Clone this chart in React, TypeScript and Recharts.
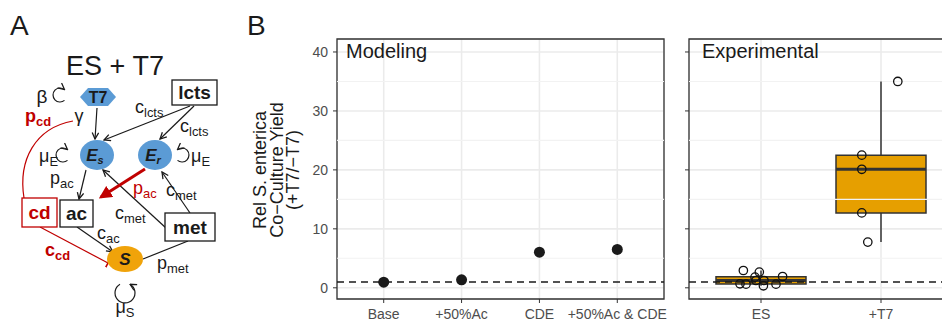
import { CartesianGrid, ComposedChart, ReferenceArea, ReferenceLine, Scatter, XAxis, YAxis } from 'recharts';

const FONT = '"Liberation Sans", Arial, sans-serif';

// panel B, left facet: model predictions
const MODEL_LABELS = ['Base', '+50%Ac', 'CDE', '+50%Ac & CDE'];
const MODEL_YIELD = [0.95, 1.35, 6.05, 6.5];

const EXP_LABELS = ['ES', '+T7'];
const ES_X = [0.853, 0.986, 0.95, 1.18, 0.825, 0.875, 0.958, 1.025, 1.02, 1.125];
const ES_Y = [2.93, 2.66, 1.81, 1.92, 0.68, 0.62, 1.24, 1.24, 0.34, 0.62];
const T7_X = [2.14, 1.84, 1.84, 1.84, 1.89];
const T7_Y = [35, 22.5, 20.1, 12.7, 7.75];

// box stats per experimental group
const BOX_LO = [0.34, 7.75];
const BOX_Q1 = [0.64, 12.7];
const BOX_MED = [1.24, 20.1];
const BOX_Q3 = [1.89, 22.5];
const BOX_HI = [2.93, 35];

const Y_TICKS = [0, 10, 20, 30, 40];
const Y_MINOR = [5, 15, 25, 35];
const Y_DOMAIN: [number, number] = [-1.9, 42.2];
const BASELINE = 1;

const BOX_HALF = 0.375;

const modelData = MODEL_YIELD.map((y, i) => ({ x: i + 1, y }));
const expData = [...ES_X.map((x, i) => ({ x, y: ES_Y[i] })), ...T7_X.map((x, i) => ({ x, y: T7_Y[i] }))];

const tickStyle = { fill: '#4d4d4d', fontSize: 14, fontFamily: FONT };

const RED = '#C00000';
const BLUE = '#5B9BD5';
const ORANGE = '#F0A30A';

function Sub({ x, y, base, sub, color = '#1a1a1a', bold = false, size = 18, anchor = 'start' as 'start' | 'middle' }) {
  return (
    <text x={x} y={y} fill={color} fontSize={size} fontWeight={bold ? 700 : 400} fontFamily={FONT} textAnchor={anchor}>
      {base}
      <tspan fontSize={size * 0.72} dy={4}>
        {sub}
      </tspan>
    </text>
  );
}

function Diagram() {
  return (
    <svg width={942} height={321} style={{ position: 'absolute', left: 0, top: 0 }}>
      <defs>
        <marker id="ah" viewBox="0 0 10 10" refX="9" refY="5" markerWidth="8" markerHeight="8" markerUnits="userSpaceOnUse" orient="auto">
          <path d="M1,1 L9,5 L1,9" fill="none" stroke="#1a1a1a" strokeWidth={1.6} />
        </marker>
        <marker id="ahr" viewBox="0 0 10 10" refX="8" refY="5" markerWidth="13" markerHeight="13" markerUnits="userSpaceOnUse" orient="auto">
          <path d="M0,0 L10,5 L0,10 z" fill={RED} />
        </marker>
        <marker id="bar" viewBox="0 0 10 10" refX="5" refY="5" markerWidth="10" markerHeight="10" markerUnits="userSpaceOnUse" orient="auto">
          <path d="M5,0 L5,10" stroke={RED} strokeWidth={1.6} />
        </marker>
      </defs>

      <text x={10} y={35} fontSize={28} fontFamily={FONT} fill="#1a1a1a">A</text>
      <text x={247} y={35} fontSize={28} fontFamily={FONT} fill="#1a1a1a">B</text>

      <text x={115} y={75} fontSize={27} fontFamily={FONT} textAnchor="middle" fill="#1a1a1a">ES + T7</text>

      {/* connections */}
      <g stroke="#1a1a1a" strokeWidth={1.2} fill="none">
        <line x1={97} y1={108} x2={95} y2={139} markerEnd="url(#ah)" />
        <line x1={190} y1={106} x2={104} y2={140} markerEnd="url(#ah)" />
        <line x1={194} y1={106} x2={160} y2={139} markerEnd="url(#ah)" />
        <line x1={86} y1={170} x2={79} y2={199} markerEnd="url(#ah)" />
        <line x1={166} y1={228} x2={103} y2={170} markerEnd="url(#ah)" />
        <line x1={190} y1={213} x2={162} y2={172} markerEnd="url(#ah)" />
        <line x1={77} y1={227} x2={113} y2={252} markerEnd="url(#ah)" />
        <line x1={143} y1={259} x2={188} y2={241} />
        <path d="M64.5,100.4 A7,7 0 1 1 64.5,89.6" markerEnd="url(#ah)" />
        <path d="M67.5,160.4 A7,7 0 1 1 67.5,149.6" markerEnd="url(#ah)" />
        <path d="M177.5,160.4 A7,7 0 1 0 177.5,149.6" markerEnd="url(#ah)" />
        <path d="M120,284.3 A10,10 0 1 0 130,284.3" markerEnd="url(#ah)" />
      </g>
      <path d="M73,121 C35,128 18,160 24,198" stroke={RED} strokeWidth={1.2} fill="none" />
      <line x1={40} y1={227} x2={108} y2={263} stroke={RED} strokeWidth={1.2} markerEnd="url(#bar)" />
      <line x1={145} y1={169} x2={101} y2={197} stroke={RED} strokeWidth={3} markerEnd="url(#ahr)" />

      {/* nodes */}
      <polygon points="80,97 88,88 108,88 116,97 108,106 88,106" fill={BLUE} />
      <text x={98} y={103} fontSize={16} fontWeight={700} fontFamily={FONT} textAnchor="middle" fill="#1a1a1a">T7</text>
      <ellipse cx={97} cy={155} rx={17} ry={15} fill={BLUE} />
      <ellipse cx={155} cy={155} rx={17} ry={15} fill={BLUE} />
      <text x={95} y={161} fontSize={17} fontWeight={700} fontStyle="italic" fontFamily={FONT} textAnchor="middle" fill="#1a1a1a">
        E<tspan fontSize={11} dy={3}>s</tspan>
      </text>
      <text x={153} y={161} fontSize={17} fontWeight={700} fontStyle="italic" fontFamily={FONT} textAnchor="middle" fill="#1a1a1a">
        E<tspan fontSize={11} dy={3}>r</tspan>
      </text>
      <ellipse cx={125} cy={259} rx={18} ry={13} fill={ORANGE} />
      <text x={125} y={265} fontSize={17} fontWeight={700} fontStyle="italic" fontFamily={FONT} textAnchor="middle" fill="#1a1a1a">S</text>

      <rect x={172} y={80} width={45} height={25} fill="#fff" stroke="#1a1a1a" strokeWidth={1.3} />
      <text x={194.5} y={99} fontSize={19} fontWeight={700} fontFamily={FONT} textAnchor="middle" fill="#1a1a1a">lcts</text>
      <rect x={22} y={198} width={35} height={29} fill="#fff" stroke={RED} strokeWidth={1.3} />
      <text x={39.5} y={219} fontSize={19} fontWeight={700} fontFamily={FONT} textAnchor="middle" fill={RED}>cd</text>
      <rect x={60} y={200} width={33} height={27} fill="#fff" stroke="#1a1a1a" strokeWidth={1.3} />
      <text x={76.5} y={220} fontSize={19} fontWeight={700} fontFamily={FONT} textAnchor="middle" fill="#1a1a1a">ac</text>
      <rect x={165} y={213} width={50} height={28} fill="#fff" stroke="#1a1a1a" strokeWidth={1.3} />
      <text x={190} y={234} fontSize={19} fontWeight={700} fontFamily={FONT} textAnchor="middle" fill="#1a1a1a">met</text>

      {/* rate labels */}
      <text x={42} y={103} fontSize={19} fontFamily={FONT} textAnchor="middle" fill="#1a1a1a">β</text>
      <text x={79} y={122} fontSize={18} fontFamily={FONT} textAnchor="middle" fill="#1a1a1a">γ</text>
      <Sub x={135} y={113} base="c" sub="lcts" />
      <Sub x={180} y={132} base="c" sub="lcts" />
      <Sub x={25} y={122} base="p" sub="cd" color={RED} bold />
      <Sub x={39} y={162} base="μ" sub="E" />
      <Sub x={191} y={162} base="μ" sub="E" />
      <Sub x={50} y={184} base="p" sub="ac" />
      <Sub x={133} y={194} base="p" sub="ac" color={RED} />
      <Sub x={166} y={196} base="c" sub="met" />
      <Sub x={115} y={219} base="c" sub="met" />
      <Sub x={97} y={239} base="c" sub="ac" />
      <Sub x={45} y={256} base="c" sub="cd" color={RED} bold />
      <Sub x={157} y={269} base="p" sub="met" />
      <Sub x={125} y={313} base="μ" sub="S" anchor="middle" />

      {/* y-axis title of panel B */}
      {['Rel S. enterica', 'Co\u2212Culture Yield', '(+T7/\u2212T7)'].map((t, i) => (
        <text
          key={t}
          x={260 + i * 16.5}
          y={170}
          transform={`rotate(-90 ${260 + i * 16.5} 170)`}
          fontSize={18}
          fontFamily={FONT}
          textAnchor="middle"
          dominantBaseline="central"
          fill="#1a1a1a"
        >
          {t}
        </text>
      ))}
    </svg>
  );
}

function Dot(props: any) {
  return <circle cx={props.cx} cy={props.cy} r={5.5} fill="#1a1a1a" />;
}

function OpenDot(props: any) {
  return <circle cx={props.cx} cy={props.cy} r={4.2} fill="none" stroke="#111" strokeWidth={1.3} />;
}

function grid(xMax: number) {
  return [
    <CartesianGrid key="g" stroke="#EBEBEB" strokeWidth={1.6} />,
    ...Y_MINOR.map((y) => <ReferenceLine key={`m${y}`} y={y} stroke="#F2F2F2" strokeWidth={1.1} />),
    <ReferenceArea key="frame" x1={0.4} x2={xMax} y1={Y_DOMAIN[0]} y2={Y_DOMAIN[1]} fill="none" stroke="#333" strokeWidth={1.3} />,
  ];
}

export default function App() {
  return (
    <div style={{ position: 'relative', width: 942, height: 321, overflow: 'hidden', background: '#fff', fontFamily: FONT }}>
      <style>{'body{margin:0}'}</style>
      <Diagram />

      <div style={{ position: 'absolute', left: 240, top: 0 }}>
        <ComposedChart width={430} height={321} data={modelData} margin={{ top: 39, right: 6, bottom: 2, left: 0 }}>
          {grid(4.6)}
          <XAxis
            type="number"
            dataKey="x"
            domain={[0.4, 4.6]}
            ticks={[1, 2, 3, 4]}
            interval={0}
            tickFormatter={(v) => MODEL_LABELS[v - 1]}
            tick={tickStyle}
            tickSize={4}
            tickMargin={6}
            axisLine={false}
            tickLine={{ stroke: '#333' }}
            height={20}
            allowDataOverflow
          />
          <YAxis
            type="number"
            domain={Y_DOMAIN}
            ticks={Y_TICKS}
            interval={0}
            tick={tickStyle}
            tickSize={4}
            tickMargin={5}
            axisLine={false}
            tickLine={{ stroke: '#333' }}
            width={97}
            allowDataOverflow
          />
          <ReferenceLine y={BASELINE} stroke="#1a1a1a" strokeWidth={1.5} strokeDasharray="7 5" />
          <Scatter dataKey="y" data={modelData} shape={Dot} isAnimationActive={false} />
        </ComposedChart>
      </div>

      <div style={{ position: 'absolute', left: 670, top: 0 }}>
        <ComposedChart width={290} height={321} data={expData} margin={{ top: 39, right: 7, bottom: 2, left: 0 }}>
          {grid(2.6)}
          <XAxis
            type="number"
            dataKey="x"
            domain={[0.4, 2.6]}
            ticks={[1, 2]}
            interval={0}
            tickFormatter={(v) => EXP_LABELS[v - 1]}
            tick={tickStyle}
            tickSize={4}
            tickMargin={6}
            axisLine={false}
            tickLine={{ stroke: '#333' }}
            height={20}
            allowDataOverflow
          />
          <YAxis
            type="number"
            domain={Y_DOMAIN}
            ticks={Y_TICKS}
            interval={0}
            tickFormatter={() => ''}
            tickSize={4}
            axisLine={false}
            tickLine={{ stroke: '#333' }}
            width={19}
            allowDataOverflow
          />
          {EXP_LABELS.map((_, i) => (
            <ReferenceLine
              key={`wl${i}`}
              segment={[{ x: i + 1, y: BOX_LO[i] }, { x: i + 1, y: BOX_Q1[i] }]}
              stroke="#333"
              strokeWidth={1.5}
            />
          ))}
          {EXP_LABELS.map((_, i) => (
            <ReferenceLine
              key={`wh${i}`}
              segment={[{ x: i + 1, y: BOX_Q3[i] }, { x: i + 1, y: BOX_HI[i] }]}
              stroke="#333"
              strokeWidth={1.5}
            />
          ))}
          {EXP_LABELS.map((_, i) => (
            <ReferenceArea
              key={`b${i}`}
              x1={i + 1 - BOX_HALF}
              x2={i + 1 + BOX_HALF}
              y1={BOX_Q1[i]}
              y2={BOX_Q3[i]}
              fill="#E69F00"
              fillOpacity={1}
              stroke="#333"
              strokeWidth={1.5}
            />
          ))}
          {EXP_LABELS.map((_, i) => (
            <ReferenceLine
              key={`md${i}`}
              segment={[{ x: i + 1 - BOX_HALF, y: BOX_MED[i] }, { x: i + 1 + BOX_HALF, y: BOX_MED[i] }]}
              stroke="#333"
              strokeWidth={3}
            />
          ))}
          <ReferenceLine y={BASELINE} stroke="#1a1a1a" strokeWidth={1.5} strokeDasharray="7 5" />
          <Scatter dataKey="y" data={expData} shape={OpenDot} isAnimationActive={false} />
        </ComposedChart>
      </div>

      <svg width={942} height={321} style={{ position: 'absolute', left: 0, top: 0, pointerEvents: 'none' }}>
        <text x={346} y={58} fontSize={20} fontFamily={FONT} fill="#1a1a1a">Modeling</text>
        <text x={702} y={58} fontSize={20} fontFamily={FONT} fill="#1a1a1a">Experimental</text>
      </svg>
    </div>
  );
}
